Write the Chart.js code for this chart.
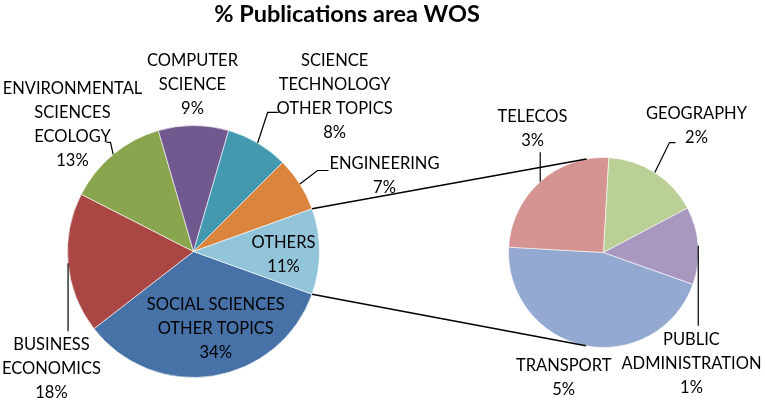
<!DOCTYPE html>
<html>
<head>
<meta charset="utf-8">
<script src="https://cdn.jsdelivr.net/npm/chart.js@4.4.1/dist/chart.umd.min.js"></script>
<style>
  body { margin: 0; background: #fff; }
  #wrap { position: relative; width: 765px; height: 404px; }
  #wrap canvas { position: absolute; left: 0; top: 0; }
</style>
</head>
<body>
<div id="wrap">
  <canvas id="mainPie" width="765" height="404"></canvas>
  <canvas id="subPie" width="765" height="404"></canvas>
</div>
<script>
const chartTitle = "% Publications area WOS";

// main pie (order clockwise, starting just below "OTHERS")
const mainLabels = [
  ["SOCIAL SCIENCES", "OTHER TOPICS"],
  ["BUSINESS", "ECONOMICS"],
  ["ENVIRONMENTAL", "SCIENCES", "ECOLOGY"],
  ["COMPUTER", "SCIENCE"],
  ["SCIENCE", "TECHNOLOGY", "OTHER TOPICS"],
  ["ENGINEERING"],
  ["OTHERS"]
];
const mainValues = [34, 18, 13, 9, 8, 7, 11];
const mainColors = ["#4672a8", "#aa4744", "#89a54e", "#71598f", "#4299b0", "#db843d", "#93c5da"];

// second pie = breakdown of "OTHERS"
const subLabels = [["TRANSPORT"], ["TELECOS"], ["GEOGRAPHY"], ["PUBLIC", "ADMINISTRATION"]];
const subValues = [5.0, 2.75, 1.8, 1.45];
const subColors = ["#94a9d1", "#d59391", "#bad096", "#a898c0"];

const total = mainValues.reduce((a, b) => a + b, 0);
const othersIndex = mainLabels.length - 1;

// label offsets from the slice's outer mid point, leader points relative to label centre
const mainPlace = [
  { dx: 2.5, dy: -47.5 },
  { dx: -16.6, dy: 105, leader: [[16.6, -37]] },
  { dx: -40.7, dy: -30, leader: [[38, 18], [34, 18]] },
  { dx: -1, dy: -41 },
  { dx: 77, dy: -46.6, leader: [[-67, 16], [-56, 16]] },
  { dx: 84.6, dy: -8.5, leader: [[-67, -5], [-56, -5]] },
  { dx: -36, dy: 3 }
];
const subPlace = [
  { dx: -21, dy: 32 },
  { dx: -7.7, dy: -52.5, leader: [[7.7, 23]] },
  { dx: 41.7, dy: -47, leader: [[-27, 17], [-21, 17]] },
  { dx: -6.8, dy: 118, leader: [[6.8, -38]] }
];

const FONT = "Lato, 'Open Sans', sans-serif";

const sliceLabels = {
  id: "sliceLabels",
  afterDraw(chart, args, opts) {
    const ctx = chart.ctx;
    const arcs = chart.getDatasetMeta(0).data;
    ctx.save();
    ctx.font = "16.5px " + FONT;
    ctx.fillStyle = "#000";
    ctx.strokeStyle = "#000";
    ctx.lineWidth = 1.2;
    ctx.textAlign = "center";
    ctx.textBaseline = "middle";
    arcs.forEach((arc, i) => {
      const p = arc.getProps(["x", "y", "startAngle", "endAngle", "outerRadius"], true);
      const mid = (p.startAngle + p.endAngle) / 2;
      const ex = p.x + Math.cos(mid) * p.outerRadius;
      const ey = p.y + Math.sin(mid) * p.outerRadius;
      const pl = opts.place[i];
      const cx = ex + pl.dx, cy = ey + pl.dy;
      const lines = opts.labels[i].concat([Math.round(opts.values[i] / total * 100) + "%"]);
      lines.forEach((t, k) => {
        ctx.fillText(t, cx, cy + (k - (lines.length - 1) / 2) * 24);
      });
      if (pl.leader) {
        ctx.beginPath();
        ctx.moveTo(ex, ey);
        pl.leader.forEach(pt => ctx.lineTo(cx + pt[0], cy + pt[1]));
        ctx.stroke();
      }
    });
    if (opts.title) {
      ctx.font = "bold 23.5px " + FONT;
      ctx.fillText(opts.title, 347, 14);
    }
    ctx.restore();
  }
};

const pieOptions = (padding, rotation, plugOpts) => ({
  responsive: false,
  animation: false,
  rotation: rotation,
  layout: { padding: padding },
  events: [],
  plugins: {
    legend: { display: false },
    tooltip: { enabled: false },
    sliceLabels: plugOpts
  }
});

const mainChart = new Chart(document.getElementById("mainPie"), {
  type: "pie",
  data: {
    labels: mainLabels,
    datasets: [{
      data: mainValues,
      backgroundColor: mainColors,
      borderColor: "rgba(255,255,255,0.6)",
      borderWidth: 1
    }]
  },
  // "OTHERS" is centred on the right
  options: pieOptions({ left: 67, right: 445, top: 125, bottom: 26 },
    90 + (mainValues[othersIndex] / total * 360) / 2,
    { labels: mainLabels, values: mainValues, place: mainPlace, title: chartTitle }),
  plugins: [sliceLabels]
});

const connectors = {
  id: "connectors",
  afterDraw(chart) {
    const ctx = chart.ctx;
    const o = mainChart.getDatasetMeta(0).data[othersIndex]
      .getProps(["x", "y", "startAngle", "endAngle", "outerRadius"], true);
    const s = chart.getDatasetMeta(0).data[0].getProps(["x", "y", "outerRadius"], true);
    ctx.save();
    ctx.strokeStyle = "#000";
    ctx.lineWidth = 1.5;
    [[o.startAngle, 1], [o.endAngle, -1]].forEach(([a, sign]) => {
      const px = o.x + Math.cos(a) * o.outerRadius;
      const py = o.y + Math.sin(a) * o.outerRadius;
      const d = Math.hypot(px - s.x, py - s.y);
      const th = Math.atan2(py - s.y, px - s.x) + sign * Math.acos(s.outerRadius / d);
      ctx.beginPath();
      ctx.moveTo(px, py);
      ctx.lineTo(s.x + Math.cos(th) * s.outerRadius, s.y + Math.sin(th) * s.outerRadius);
      ctx.stroke();
    });
    ctx.restore();
  }
};

const subChart = new Chart(document.getElementById("subPie"), {
  type: "pie",
  data: {
    labels: subLabels,
    datasets: [{
      data: subValues,
      backgroundColor: subColors,
      borderColor: "rgba(255,255,255,0.6)",
      borderWidth: 1
    }]
  },
  options: pieOptions({ left: 508, right: 66, top: 157, bottom: 56 }, 109.6,
    { labels: subLabels, values: subValues, place: subPlace }),
  plugins: [sliceLabels, connectors]
});
</script>
</body>
</html>
